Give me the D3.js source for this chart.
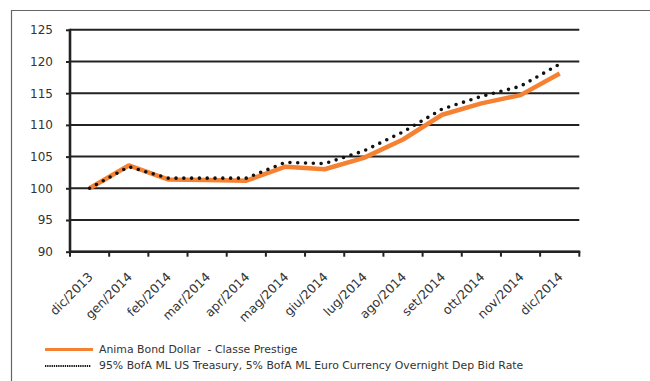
<!DOCTYPE html>
<html><head><meta charset="utf-8">
<script src="https://cdn.jsdelivr.net/npm/d3@7"></script>
<style>
html,body{margin:0;padding:0;background:#fff;}
svg{display:block;font-family:"DejaVu Sans",sans-serif;}
text{white-space:pre;}
</style></head>
<body>
<svg id="chart" width="650" height="381"></svg>
<script>
const categories = ["dic/2013","gen/2014","feb/2014","mar/2014","apr/2014","mag/2014","giu/2014","lug/2014","ago/2014","set/2014","ott/2014","nov/2014","dic/2014"];
const fundValues = [100, 103.6, 101.4, 101.3, 101.2, 103.4, 103.0, 104.8, 107.7, 111.6, 113.4, 114.7, 118.1];
const benchValues = [100, 103.4, 101.6, 101.6, 101.6, 104.1, 103.9, 105.9, 108.9, 112.5, 114.5, 116.1, 119.6];
const yTicks = [90, 95, 100, 105, 110, 115, 120, 125];
const seriesNames = ["Anima Bond Dollar  - Classe Prestige", "95% BofA ML US Treasury, 5% BofA ML Euro Currency Overnight Dep Bid Rate"];

const svg = d3.select("#chart");
const pLeft = 70, pRight = 579.3, pTop = 29.8, pBottom = 251.7;

// outer frame
svg.append("path").attr("d", "M11.5,381 V10.5 H650").attr("fill","none").attr("stroke","#666").attr("stroke-width",1.2);

const x = d3.scaleBand().domain(categories).range([pLeft, pRight]);
const y = d3.scaleLinear().domain([90, 125]).range([pBottom, pTop]);

// gridlines + y axis
const yAxis = d3.axisLeft(y).tickValues(yTicks).tickSize(4).tickPadding(13).tickFormat(d3.format("d"));
const gy = svg.append("g").attr("transform", `translate(${pLeft},0)`).call(yAxis);
gy.select(".domain").remove();
gy.selectAll(".tick line").attr("stroke","#222").attr("stroke-width",2);
gy.selectAll(".tick text").attr("fill","#333").style("font-family","DejaVu Sans").style("font-size","12px");
svg.append("g").selectAll("line").data(yTicks).join("line")
  .attr("x1", pLeft).attr("x2", pRight).attr("y1", d=>y(d)).attr("y2", d=>y(d))
  .attr("stroke","#222").attr("stroke-width",2);
svg.append("line").attr("x1",pLeft).attr("x2",pLeft).attr("y1",y(125)-1).attr("y2",y(90))
  .attr("stroke","#222").attr("stroke-width",2.6);

// x axis ticks at band boundaries
const bounds = categories.map(c => x(c)).concat([pRight]);
svg.append("g").selectAll("line").data(bounds).join("line")
  .attr("x1", d=>d).attr("x2", d=>d).attr("y1", y(90)).attr("y2", y(90)+5)
  .attr("stroke","#222").attr("stroke-width",2);
svg.append("line").attr("x1",pLeft).attr("x2",pRight+1).attr("y1",y(90)).attr("y2",y(90))
  .attr("stroke","#222").attr("stroke-width",2.6);

// x labels
svg.append("g").selectAll("text").data(categories).join("text")
  .attr("transform", d => `translate(${x(d)+x.bandwidth()/2+4},${y(90)+26}) rotate(-45)`)
  .attr("text-anchor","end")
  .attr("fill","#333").style("font-size","12.5px").text(d=>d);

const line = d3.line().x((d,i)=>x(categories[i])+x.bandwidth()/2).y(d=>y(d));

svg.append("path").datum(fundValues).attr("d", line).attr("fill","none")
  .attr("stroke","#F58232").attr("stroke-width",4.5).attr("stroke-linejoin","round");
svg.append("path").datum(benchValues).attr("d", line).attr("fill","none")
  .attr("stroke","#111").attr("stroke-width",3.6).attr("stroke-linecap","round")
  .attr("stroke-dasharray","0,7.8");

// legend
const lg = svg.append("g");
lg.append("line").attr("x1",45).attr("x2",93).attr("y1",349.5).attr("y2",349.5)
  .attr("stroke","#F58232").attr("stroke-width",3);
lg.append("line").attr("x1",45).attr("x2",91).attr("y1",366).attr("y2",366)
  .attr("stroke","#111").attr("stroke-width",2).attr("stroke-dasharray","1.3,0.9");
const lt = lg.selectAll("text").data(seriesNames).join("text")
  .attr("x",99).attr("y",(d,i)=>349.5+i*16.5).attr("dominant-baseline","middle")
  .attr("fill","#333").style("font-size","12px").text(d=>d);
// fit legend font to reference width of long line (~425px)
const w = lt.nodes()[1].getComputedTextLength();
lt.style("font-size", (12*425/w).toFixed(2)+"px");
</script>
</body></html>
